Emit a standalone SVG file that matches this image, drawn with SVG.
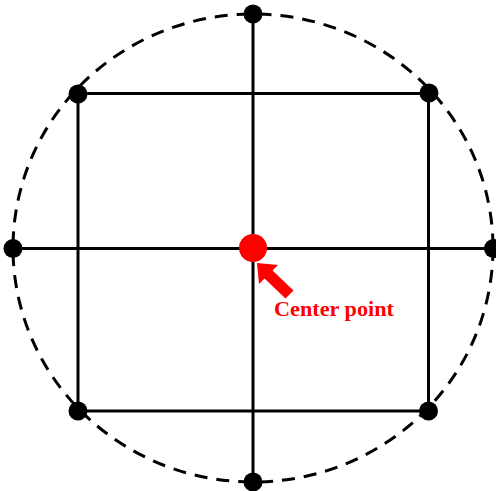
<svg xmlns="http://www.w3.org/2000/svg" width="496" height="491" viewBox="0 0 496 491">
<style>
.ln{stroke:#000;stroke-width:3;fill:none}
.dash{stroke:#000;stroke-width:3;fill:none;stroke-dasharray:13 9}
.dot{fill:#000}
.lbl{font-family:"Liberation Serif","Times New Roman",serif;font-weight:bold;font-size:22px;fill:#ff0000}
</style>
<rect width="496" height="491" fill="#fff"/>
<g id="connectors">
<ellipse class="dash" cx="253" cy="248" rx="240" ry="234"/>
<rect class="ln" x="78" y="93.5" width="350.5" height="317.5"/>
<line class="ln" x1="253" y1="14" x2="253" y2="482"/>
<line class="ln" x1="13" y1="248.5" x2="493" y2="248.5"/>
</g>
<g id="node-top"><circle class="dot" cx="253" cy="14" r="9.5"/></g>
<g id="node-bottom"><circle class="dot" cx="253" cy="482" r="9.5"/></g>
<g id="node-left"><circle class="dot" cx="13" cy="248.5" r="9.5"/></g>
<g id="node-right"><circle class="dot" cx="493.5" cy="248.5" r="9.5"/></g>
<g id="node-tl"><circle class="dot" cx="78" cy="94" r="9.5"/></g>
<g id="node-tr"><circle class="dot" cx="429" cy="93" r="9.5"/></g>
<g id="node-bl"><circle class="dot" cx="78" cy="411" r="9.5"/></g>
<g id="node-br"><circle class="dot" cx="428.5" cy="411" r="9.5"/></g>
<g id="center">
<circle cx="253" cy="248" r="14" fill="#ff0000"/>
<polygon fill="#ff0000" points="257,263 278,265 272.5,270.5 293.5,290.5 285.5,298.5 264.5,278.5 259,284"/>
<text class="lbl" x="274" y="316" textLength="120" lengthAdjust="spacingAndGlyphs">Center point</text>
</g>
</svg>
